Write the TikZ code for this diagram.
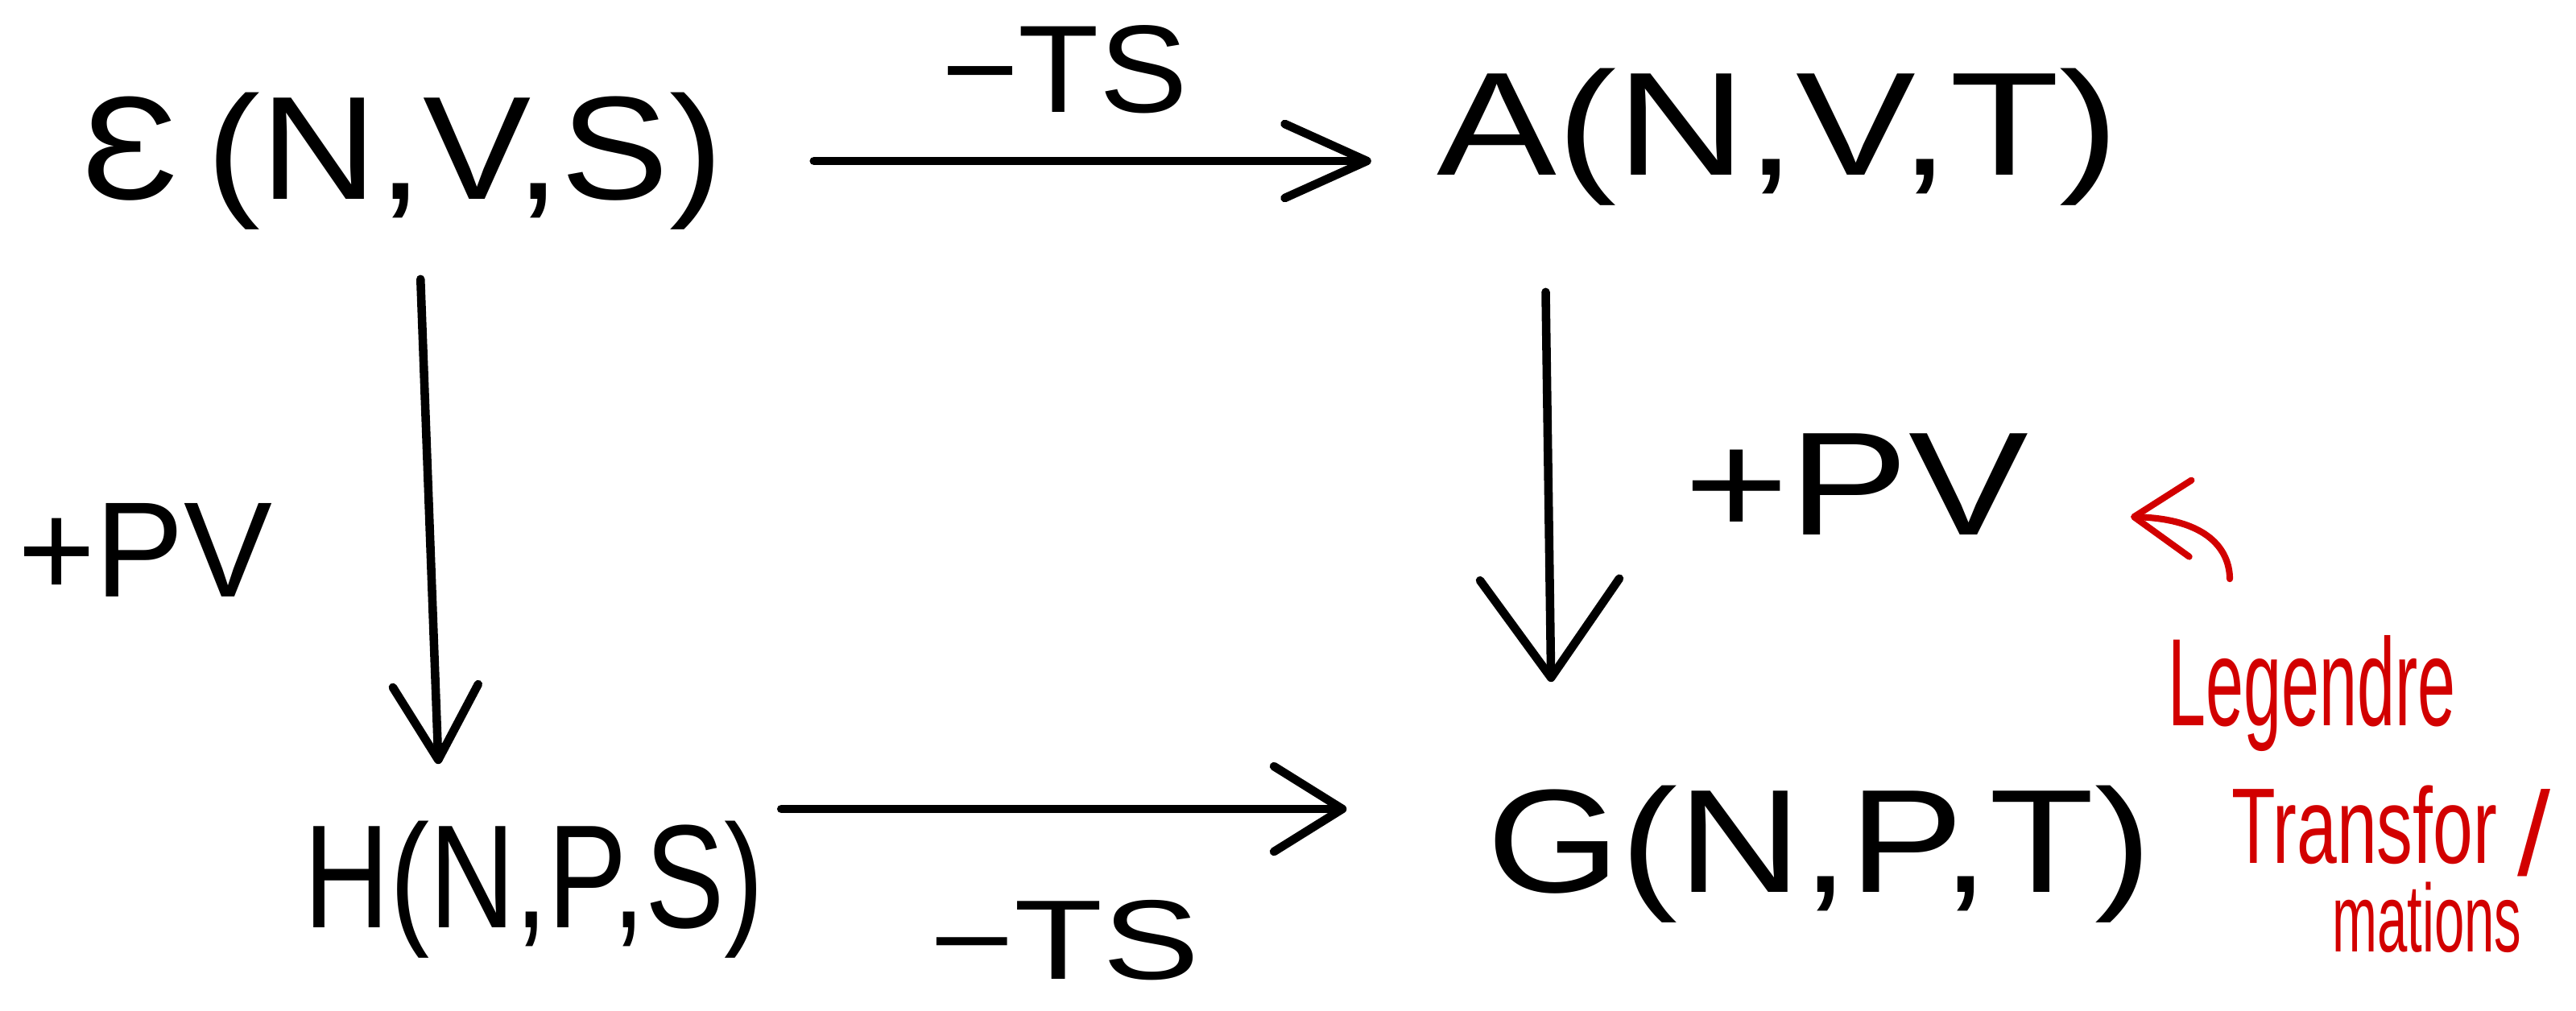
\documentclass[tikz,border=0pt]{standalone}
\usepackage{fontspec}
\setmainfont{Liberation Sans}
\usepackage{graphicx}
\usetikzlibrary{arrows.meta}
\definecolor{hred}{RGB}{210,0,0}
\newcommand\fitw[2]{\resizebox{#1}{\height}{#2}}
\begin{document}
\begin{tikzpicture}[
  lbl/.style={inner sep=0pt, font=\fontsize{52}{60}\selectfont},
  side/.style={inner sep=0pt, font=\fontsize{#1}{#1}\selectfont},
  rtxt/.style={inner sep=0pt, text=hred, font=\fontsize{#1}{#1}\selectfont},
  arr/.style={line width=3pt, line cap=round},
]
\useasboundingbox (0,0) rectangle (31.99,-12.56);
% main potentials
\node[lbl] (E) at (5.00,-2.00) {\fitw{7.96cm}{Ɛ\,(N,V,S)}};
\node[lbl] (A) at (22.08,-1.70) {\fitw{8.47cm}{A(N,V,T)}};
\node[lbl] (H) at (6.63,-11.05) {\fitw{5.71cm}{H(N,P,S)}};
\node[lbl] (G) at (22.59,-10.61) {\fitw{8.26cm}{G(N,P,T)}};
% edge labels
\node[side=44] (ts1) at (13.22,-0.86) {\fitw{3.06cm}{−TS}};
\node[side=40] (ts2) at (13.22,-11.68) {\fitw{3.36cm}{−TS}};
\node[side=48] (pv1) at (1.80,-6.83) {\fitw{3.16cm}{+PV}};
\node[side=52] (pv2) at (23.05,-6.02) {\fitw{4.28cm}{+PV}};
% red annotation
\node[rtxt=44] (leg) at (28.71,-8.62) {\fitw{3.57cm}{Legendre}};
\node[rtxt=38] (tr) at (29.36,-10.25) {\fitw{3.30cm}{Transfor}};
\node[rtxt=34] (ma) at (30.14,-11.40) {\fitw{2.35cm}{mations}};
\node[rtxt=42] (ex) at (31.47,-10.35) {/};
% arrows
\draw[arr, shorten <=1.12cm, shorten >=0.81cm,
  -{Straight Barb[length=1.02cm,width=0.92cm,round]}] (E.east) -- (E.east -| A.west);
\coordinate (hb) at ([yshift=1.0cm]H.east);
\draw[arr, shorten <=0.21cm, shorten >=1.73cm,
  -{Straight Barb[length=0.85cm,width=1.06cm,round]}] (hb) -- (hb -| G.west);
\draw[arr, shorten <=0.61cm, shorten >=0.70cm,
  -{Straight Barb[length=0.92cm,width=1.06cm,round]}] ([xshift=0.2cm]E.south) -- ([xshift=-1.16cm]H.north);
\draw[arr, shorten <=1.07cm, shorten >=1.28cm,
  -{Straight Barb[length=1.22cm,width=1.73cm,round]}] ([xshift=-2.9cm]A.south) -- ([xshift=-3.31cm]G.north);
\coordinate (redtip) at (26.46,-6.42);
\draw[hred, line width=2.3pt, line cap=round,
  -{Straight Barb[length=0.7cm,width=0.95cm,round]}]
  ([shift={(-1.02,0.70)}]leg.north) .. controls (27.69,-6.9) and (27.5,-6.45) .. (redtip);
\end{tikzpicture}
\end{document}
